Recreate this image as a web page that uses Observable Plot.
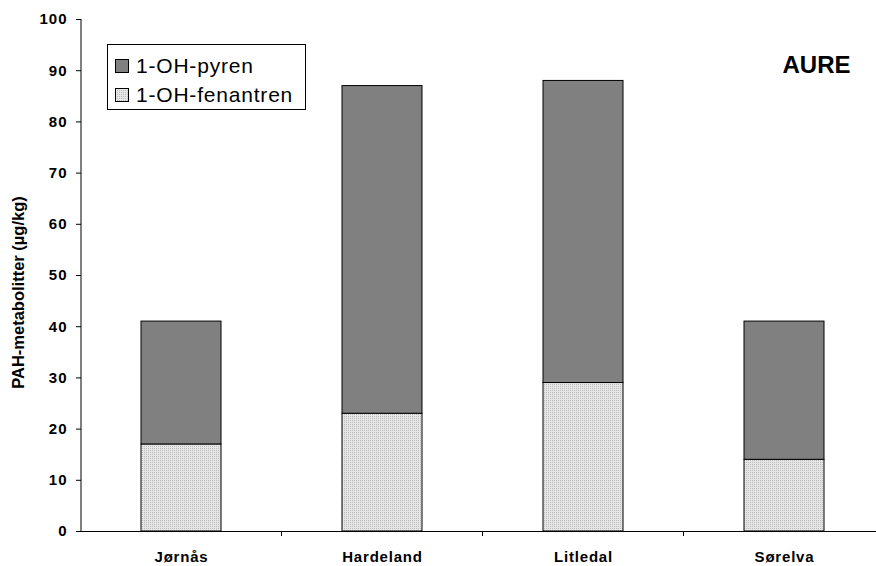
<!DOCTYPE html>
<html><head><meta charset="utf-8">
<script src="https://cdn.jsdelivr.net/npm/d3@7"></script>
<script src="https://cdn.jsdelivr.net/npm/@observablehq/plot@0.6"></script>
<style>
body{margin:0;background:#fff;font-family:"Liberation Sans",Arial,sans-serif;}
#wrap{position:relative;width:876px;height:566px;}
.legend{position:absolute;left:107px;top:44px;width:197px;height:64px;border:1px solid #000;background:#fff;font-size:21px;letter-spacing:0.8px;color:#000;}
.legend .row{position:absolute;left:7px;display:flex;align-items:center;height:26px;}
.legend svg{margin-right:7px;}
</style></head>
<body><div id="wrap"></div>
<script>
const sites = ["Jørnås","Hardeland","Litledal","Sørelva"];
const fenantren = [17, 23, 29, 14];
const pyren = [24, 64, 59, 27];
const seriesNames = ["1-OH-pyren","1-OH-fenantren"];
const seriesColors = ["#808080","url(#stipple)"];
const yTicks = [0,10,20,30,40,50,60,70,80,90,100];

const data = [];
sites.forEach((s,i)=>{
  data.push({site:s, series:"1-OH-fenantren", value:fenantren[i], order:0});
  data.push({site:s, series:"1-OH-pyren", value:pyren[i], order:1});
});

const patternDefs = () => {
  const defs = d3.create("svg:defs");
  const p = defs.append("pattern").attr("id","stipple").attr("width",2).attr("height",2).attr("patternUnits","userSpaceOnUse");
  p.append("rect").attr("width",2).attr("height",2).attr("fill","#e6e6e6");
  p.append("rect").attr("width",1).attr("height",1).attr("fill","#bcbcbc");
  return defs.node();
};

const boundaryTicks = (index, scales, values, dim) => {
  const x = scales.x;
  const bw = x.bandwidth ? x.bandwidth() : 0;
  const g = d3.create("svg:g");
  const y0 = dim.height - dim.marginBottom;
  for (let i = 0; i < sites.length - 1; i++) {
    const b = (x(sites[i]) + bw + x(sites[i+1])) / 2;
    g.append("line").attr("x1", b).attr("x2", b).attr("y1", y0).attr("y2", y0 + 5).attr("stroke", "#000");
  }
  g.append("line").attr("x1", dim.marginLeft).attr("x2", dim.marginLeft)
    .attr("y1", dim.marginTop).attr("y2", y0).attr("stroke", "#000");
  return g.node();
};

const chart = Plot.plot({
  width: 876, height: 566,
  marginLeft: 81, marginRight: 0, marginTop: 19, marginBottom: 35,
  style: {fontFamily: '"Liberation Sans",Arial,sans-serif', background: "#fff"},
  x: {domain: sites, range: [81, 885], paddingInner: 0.6, paddingOuter: 0.3, label: null},
  y: {domain: [0,100], label: null},
  color: {domain: seriesNames, range: seriesColors},
  marks: [
    patternDefs,
    Plot.barY(data, Plot.stackY({x: "site", y: "value", order: "order", fill: "series", stroke: "#000", strokeWidth: 1})),
    Plot.axisY({ticks: yTicks, tickSize: 5, tickPadding: 9, fontSize: 15, fontWeight: "bold", fill: "#000", label: null}),
    Plot.axisX({tickSize: 0, tickPadding: 20, fontSize: 15, fontWeight: "bold", fill: "#000", label: null}),
    Plot.ruleY([0], {stroke: "#000"}),
    boundaryTicks,
    Plot.text(["PAH-metabolitter (µg/kg)"], {frameAnchor: "left", rotate: -90, textAnchor: "middle", dx: -63, dy: 17, fontSize: 16.5, fontWeight: "bold", fill: "#000"}),
    Plot.text(["AURE"], {frameAnchor: "top-right", textAnchor: "end", dx: -26, dy: 36, fontSize: 24, fontWeight: "bold", fill: "#000"})
  ]
});
chart.querySelectorAll('g[aria-label="y-axis tick label"] text').forEach(t => t.setAttribute("letter-spacing", "1"));
chart.querySelectorAll('g[aria-label="x-axis tick label"] text').forEach(t => t.setAttribute("letter-spacing", "0.8"));
const wrap = document.getElementById("wrap");
wrap.appendChild(chart);
const leg = document.createElement("div");
leg.className = "legend";
seriesNames.forEach((n,i)=>{
  const r = document.createElement("div");
  r.className = "row";
  r.style.top = (i===0 ? 8 : 37) + "px";
  r.innerHTML = `<svg width="14" height="14"><rect x="0.5" y="0.5" width="13" height="13" fill="${seriesColors[i]}" stroke="#000"/></svg><span>${n}</span>`;
  leg.appendChild(r);
});
wrap.appendChild(leg);
</script></body></html>
